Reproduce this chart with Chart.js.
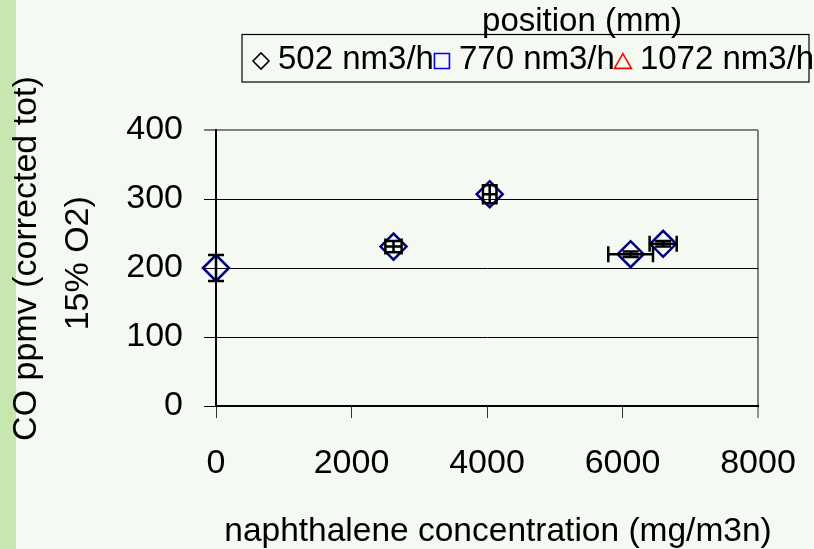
<!DOCTYPE html>
<html lang="en">
<head>
<meta charset="UTF-8">
<title>CO vs naphthalene concentration</title>
<style>
  html, body { margin: 0; padding: 0; }
  body {
    width: 814px;
    height: 549px;
    overflow: hidden;
    background: linear-gradient(to right, #c8e6b0 0, #c8e6b0 16px, #f4f9f1 16px);
  }
  canvas { display: block; }
</style>
</head>
<body>
<canvas id="chart" width="814" height="549"></canvas>
<script src="https://cdn.jsdelivr.net/npm/chart.js@4"></script>
<script>
const FONT = 'Arial, "Liberation Sans", Helvetica, sans-serif';

// 502 nm3/h measurements
const NAPH = [0, 2620, 4040, 6120, 6600];
const CO = [200, 231, 307, 220, 235];
const NAPH_ERR = [0, 120, 100, 330, 200];
const CO_ERR = [19, 8, 13, 4, 4];

const SERIES = ['502 nm3/h', '770 nm3/h', '1072 nm3/h'];
const SERIES_STYLE = ['rectRot', 'rect', 'triangle'];
const SERIES_COLOR = ['#000000', '#0000ff', '#ff0000'];
const LEGEND_RADIUS = [8, 10.6, 9.8];

const X_TICKS = [0, 2000, 4000, 6000, 8000];
const Y_TICKS = [0, 100, 200, 300, 400];
const X_TITLE = 'naphthalene concentration (mg/m3n)';

Chart.defaults.font.family = FONT;
Chart.defaults.color = '#000';

// black error bars with caps, both directions
const errorBars = {
  id: 'errorBars',
  afterDatasetsDraw(chart) {
    const { ctx, scales: { x, y } } = chart;
    const cap = 8;
    ctx.save();
    ctx.strokeStyle = '#000';
    ctx.lineWidth = 2.5;
    NAPH.forEach((v, i) => {
      const px = x.getPixelForValue(v);
      const py = y.getPixelForValue(CO[i]);
      ctx.beginPath();
      if (CO_ERR[i]) {
        const y0 = y.getPixelForValue(CO[i] - CO_ERR[i]);
        const y1 = y.getPixelForValue(CO[i] + CO_ERR[i]);
        ctx.moveTo(px, y0); ctx.lineTo(px, y1);
        ctx.moveTo(px - cap, y0); ctx.lineTo(px + cap, y0);
        ctx.moveTo(px - cap, y1); ctx.lineTo(px + cap, y1);
      }
      if (NAPH_ERR[i]) {
        const x0 = x.getPixelForValue(v - NAPH_ERR[i]);
        const x1 = x.getPixelForValue(v + NAPH_ERR[i]);
        ctx.moveTo(x0, py); ctx.lineTo(x1, py);
        ctx.moveTo(x0, py - cap); ctx.lineTo(x0, py + cap);
        ctx.moveTo(x1, py - cap); ctx.lineTo(x1, py + cap);
      }
      ctx.stroke();
    });
    ctx.restore();
  }
};

// boxed legend with its title sitting on the top edge, plus the x title
// (wider than the plot, so it is drawn here instead of by the scale)
const boxLegend = {
  id: 'boxLegend',
  afterDraw(chart) {
    const ctx = chart.ctx;
    ctx.save();
    ctx.fillStyle = '#000';

    ctx.font = '33.5px ' + FONT;
    ctx.textAlign = 'center';
    ctx.textBaseline = 'alphabetic';
    ctx.fillText(X_TITLE, 498, 541);

    ctx.font = '33px ' + FONT;
    ctx.textBaseline = 'middle';
    ctx.fillText('position (mm)', 582, 22);

    ctx.strokeStyle = '#000';
    ctx.lineWidth = 1.2;
    ctx.strokeRect(242, 34.5, 567, 47.5);

    ctx.textAlign = 'left';
    let cursor = 253;
    SERIES.forEach((name, i) => {
      const r = LEGEND_RADIUS[i];
      const cy = 61 + (SERIES_STYLE[i] === 'triangle' ? r / 4 : 0);
      ctx.save();
      ctx.fillStyle = 'rgba(0,0,0,0)';
      ctx.strokeStyle = SERIES_COLOR[i];
      ctx.lineWidth = 1.6;
      Chart.helpers.drawPoint(ctx, { pointStyle: SERIES_STYLE[i], radius: r, borderWidth: 1.6, rotation: 0 }, cursor + 8, cy);
      ctx.restore();
      const tx = cursor + 25;
      ctx.fillText(name, tx, 60);
      cursor = tx + ctx.measureText(name).width;
    });
    ctx.restore();
  }
};

const tickFont = { family: FONT, size: 34, lineHeight: 1.2 };

new Chart(document.getElementById('chart'), {
  type: 'scatter',
  data: {
    datasets: [
      {
        label: SERIES[0],
        data: NAPH.map((v, i) => ({ x: v, y: CO[i] })),
        clip: false,
        pointStyle: 'rectRot',
        pointRadius: 13,
        pointBorderWidth: 2.5,
        pointBorderColor: '#000080',
        pointBackgroundColor: 'rgba(0,0,0,0)'
      },
      { label: SERIES[1], data: [], pointStyle: 'rect', pointBorderColor: SERIES_COLOR[1] },
      { label: SERIES[2], data: [], pointStyle: 'triangle', pointBorderColor: SERIES_COLOR[2] }
    ]
  },
  options: {
    responsive: false,
    animation: false,
    devicePixelRatio: 1,
    layout: { padding: { top: 130, right: 56, bottom: 0, left: 0 } },
    plugins: {
      legend: { display: false },
      tooltip: { enabled: false }
    },
    scales: {
      x: {
        type: 'linear',
        min: 0,
        max: 8000,
        afterBuildTicks: s => { s.ticks = X_TICKS.map(v => ({ value: v })); },
        afterFit: s => {
          s.height = 143;
          s.paddingLeft = 0;
          s.paddingRight = 0;
        },
        border: { color: '#000', width: 2 },
        grid: {
          drawOnChartArea: true,
          color: c => (c.tick && c.tick.value === 8000) ? '#808080' : 'rgba(0,0,0,0)',
          lineWidth: c => (c.tick && c.tick.value === 8000) ? 2 : 1,
          tickColor: '#333',
          tickWidth: 1,
          tickLength: 12
        },
        ticks: {
          color: '#000',
          padding: 25.5,
          font: tickFont,
          maxRotation: 0,
          autoSkip: false,
          callback: v => String(v)
        },
        title: { display: false }
      },
      y: {
        type: 'linear',
        min: 0,
        max: 400,
        afterBuildTicks: s => { s.ticks = Y_TICKS.map(v => ({ value: v })); },
        afterFit: s => { s.width = 216; },
        border: { color: '#000', width: 2 },
        grid: {
          color: c => (c.tick && c.tick.value === 400) ? '#808080' : '#000',
          lineWidth: c => (c.tick && c.tick.value === 400) ? 2 : 1,
          tickColor: '#000',
          tickWidth: 1,
          tickLength: 12
        },
        ticks: {
          color: '#000',
          padding: 21,
          font: tickFont,
          callback: v => String(v)
        },
        title: {
          display: true,
          text: ['  CO ppmv (corrected tot)', ' 15% O2)'],
          color: '#000',
          font: { family: FONT, size: 34, lineHeight: 1.53 },
          padding: { top: 1, bottom: 0 }
        }
      }
    }
  },
  plugins: [errorBars, boxLegend]
});
</script>
</body>
</html>
